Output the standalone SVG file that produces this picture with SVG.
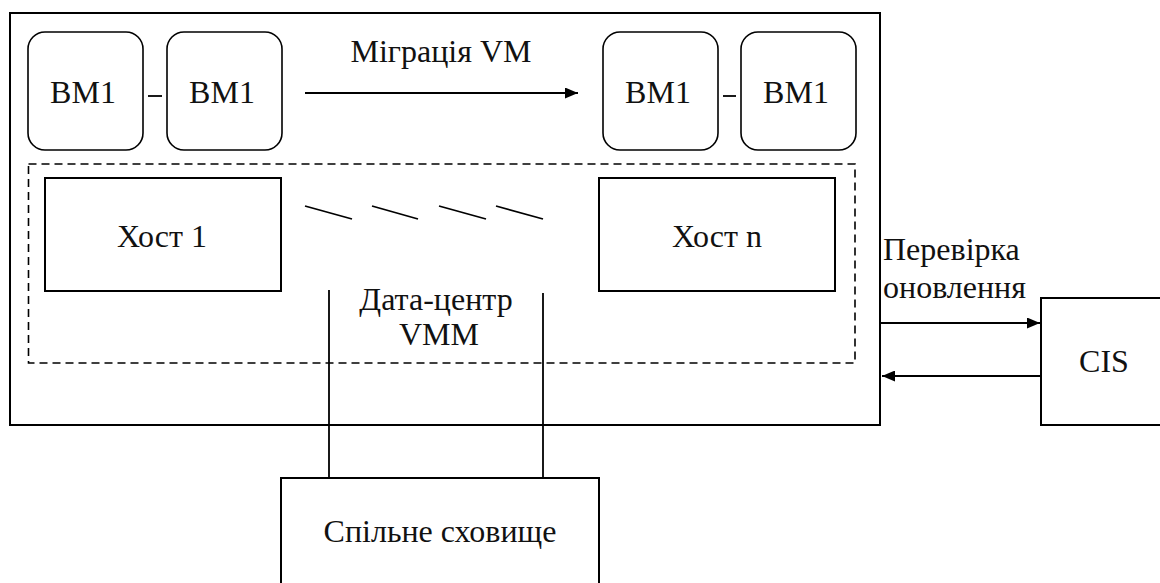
<svg xmlns="http://www.w3.org/2000/svg" width="1160" height="583" viewBox="0 0 1160 583">
  <style>
    .box { fill: #fff; stroke: #000; stroke-width: 2; }
    .vm { fill: #fff; stroke: #000; stroke-width: 1.6; }
    .dash { fill: none; stroke: #000; stroke-width: 1.6; stroke-dasharray: 8 5; }
    .ln { fill: none; stroke: #000; stroke-width: 1.8; }
    .t { font-family: 'Liberation Serif', 'Times New Roman', 'DejaVu Serif', serif; font-size: 32px; fill: #111; }
    .c { text-anchor: middle; }
  </style>
  <defs>
    <marker id="head" viewBox="0 0 13 11" refX="13" refY="5.5" markerWidth="13" markerHeight="11" markerUnits="userSpaceOnUse" orient="auto">
      <path d="M0,0 L13,5.5 L0,11 Z" fill="#000"/>
    </marker>
  </defs>

  <!-- data centre enclosure -->
  <g id="datacenter">
    <rect class="box" x="10" y="13" width="870" height="412"/>
  </g>

  <!-- VMM dashed region -->
  <g id="vmm" class="t">
    <rect class="dash" x="28.5" y="164" width="826.5" height="199"/>
    <text class="c" x="436" y="310">Дата-центр</text>
    <text class="c" x="439" y="345">VMM</text>
  </g>

  <!-- virtual machines -->
  <g id="vm-a" class="t">
    <rect class="vm" x="28" y="32" width="115" height="118" rx="17" ry="17"/>
    <text class="c" x="83" y="103">BM1</text>
  </g>
  <g id="vm-b" class="t">
    <rect class="vm" x="167" y="32" width="115" height="118" rx="17" ry="17"/>
    <text class="c" x="222" y="103">BM1</text>
  </g>
  <g id="vm-c" class="t">
    <rect class="vm" x="603" y="32" width="115" height="118" rx="17" ry="17"/>
    <text class="c" x="658" y="103">BM1</text>
  </g>
  <g id="vm-d" class="t">
    <rect class="vm" x="741" y="32" width="115" height="118" rx="17" ry="17"/>
    <text class="c" x="796" y="103">BM1</text>
  </g>

  <!-- hosts -->
  <g id="host-1" class="t">
    <rect class="box" x="45" y="178" width="236" height="113"/>
    <text class="c" x="162" y="247">Хост 1</text>
  </g>
  <g id="host-n" class="t">
    <rect class="box" x="599" y="178" width="236" height="113"/>
    <text class="c" x="717" y="247">Хост n</text>
  </g>

  <!-- shared storage -->
  <g id="storage" class="t">
    <rect class="box" x="281" y="478" width="318" height="120"/>
    <text class="c" x="440" y="542">Спільне сховище</text>
  </g>

  <!-- CIS -->
  <g id="cis" class="t">
    <rect class="box" x="1041" y="298" width="140" height="127"/>
    <text class="c" x="1104" y="372">CIS</text>
  </g>

  <!-- connectors -->
  <g id="connectors" class="t">
    <line class="ln" x1="148" y1="96" x2="162" y2="96"/>
    <line class="ln" x1="723" y1="96" x2="736" y2="96"/>
    <line class="ln" x1="305" y1="93" x2="578" y2="93" marker-end="url(#head)"/>
    <text x="441" y="62" class="c">Міграція VM</text>

    <line class="ln" x1="305" y1="206" x2="352" y2="219"/>
    <line class="ln" x1="372" y1="206" x2="418" y2="219"/>
    <line class="ln" x1="439" y1="206" x2="486" y2="219"/>
    <line class="ln" x1="496" y1="206" x2="543" y2="219"/>

    <line class="ln" x1="329" y1="290" x2="329" y2="478"/>
    <line class="ln" x1="543" y1="293" x2="543" y2="478"/>

    <line class="ln" x1="881" y1="323" x2="1040" y2="323" marker-end="url(#head)"/>
    <line class="ln" x1="1041" y1="376" x2="882" y2="376" marker-end="url(#head)"/>
    <text x="883" y="260">Перевірка</text>
    <text x="883" y="298">оновлення</text>
  </g>
</svg>
